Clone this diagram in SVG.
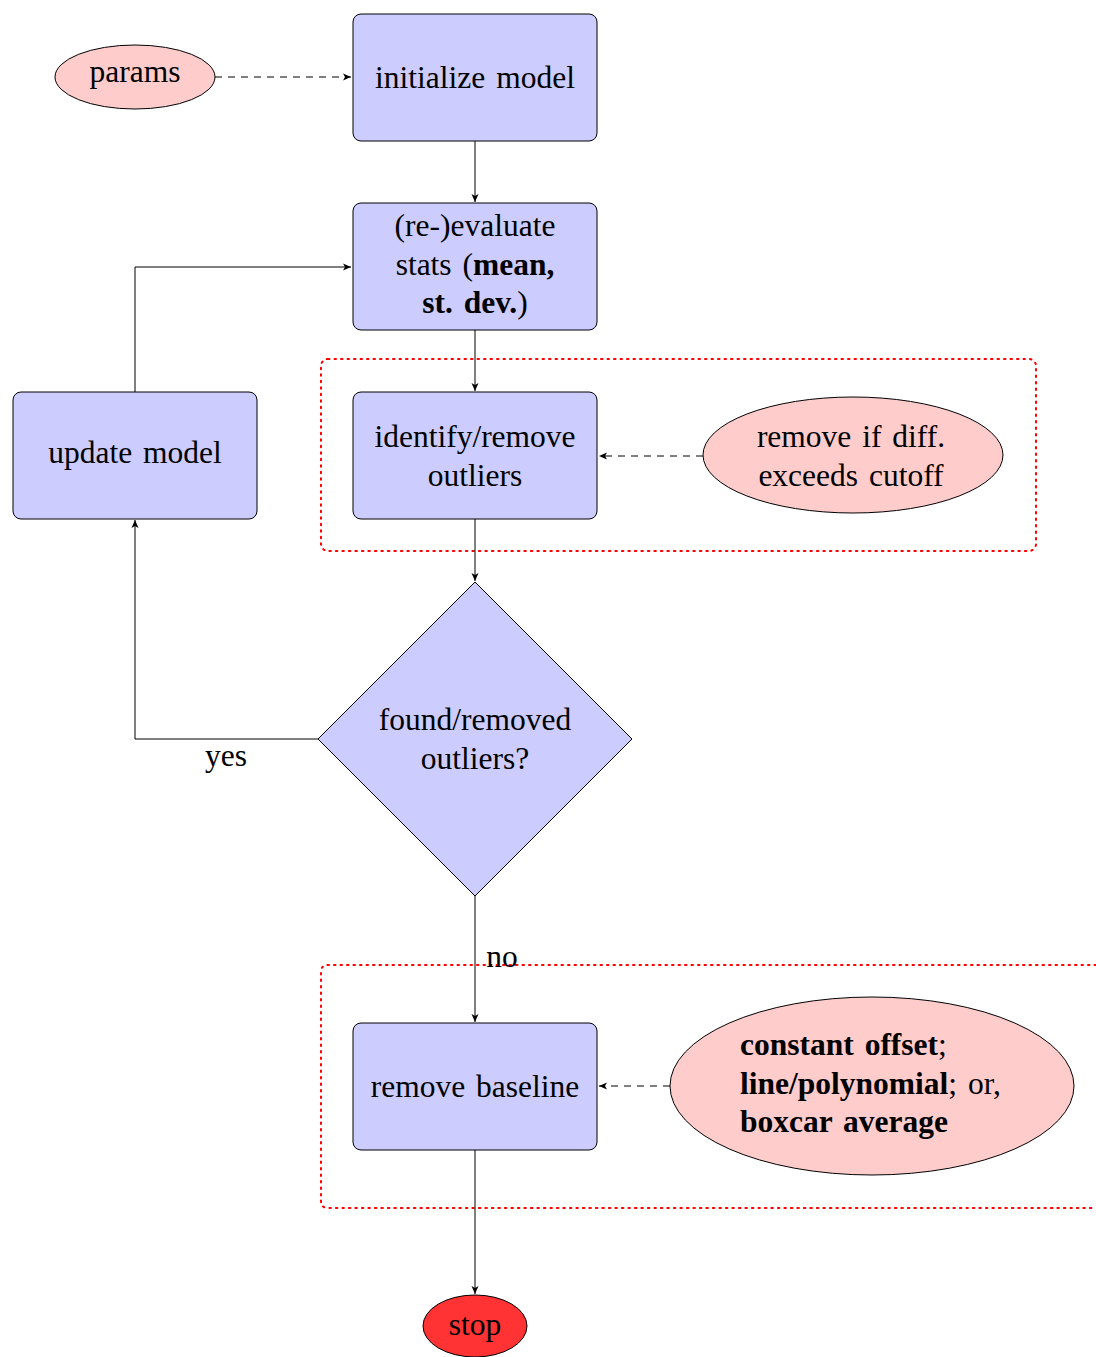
<svg xmlns="http://www.w3.org/2000/svg" width="1096" height="1357" viewBox="0 0 1096 1357">
<style>
text{font-family:"Liberation Serif","Times New Roman",serif;font-size:31.5px;fill:#000;text-anchor:middle;word-spacing:3px}
text.l{text-anchor:start}
.box{fill:#ccccff;stroke:#000;stroke-width:1}
.ell{fill:#ffcccc;stroke:#000;stroke-width:1}
.grp{fill:none;stroke:#ff0000;stroke-width:2;stroke-dasharray:1.5 5;stroke-linecap:round}
.ln{fill:none;stroke:#000;stroke-width:1}
.dash{fill:none;stroke:#000;stroke-width:1;stroke-dasharray:7 6}
.b{font-weight:bold}
.n{font-weight:normal}
</style>
<defs>
<marker id="ah" markerWidth="10" markerHeight="8" refX="8" refY="4" orient="auto" markerUnits="userSpaceOnUse">
<path d="M0,0.5 L8,4 L0,7.5 L2,4 Z" fill="#000"/>
</marker>
</defs>
<rect width="1096" height="1357" fill="#fff"/>
<g id="groups">
<rect class="grp" x="321" y="359" width="715" height="192" rx="7"/>
<path class="grp" d="M1096,965 H328 Q321,965 321,972 V1201 Q321,1208 328,1208 H1096"/>
</g>
<g id="connectors">
<path class="dash" d="M215,77 H351" marker-end="url(#ah)"/>
<path class="ln" d="M475,141 V202" marker-end="url(#ah)"/>
<path class="ln" d="M475,330 V391" marker-end="url(#ah)"/>
<path class="dash" d="M703,456 H599" marker-end="url(#ah)"/>
<path class="ln" d="M475,519 V581" marker-end="url(#ah)"/>
<path class="ln" d="M318,739 H135 V520" marker-end="url(#ah)"/>
<path class="ln" d="M135,392 V267 H351" marker-end="url(#ah)"/>
<path class="ln" d="M475,896 V1022" marker-end="url(#ah)"/>
<path class="dash" d="M670,1086 H599" marker-end="url(#ah)"/>
<path class="ln" d="M475,1150 V1294" marker-end="url(#ah)"/>
<text x="226" y="766">yes</text>
<text x="502" y="967">no</text>
</g>
<g id="params">
<ellipse class="ell" cx="135" cy="77" rx="80" ry="32"/>
<text x="135" y="82">params</text>
</g>
<g id="init">
<rect class="box" x="353" y="14" width="244" height="127" rx="8"/>
<text x="475" y="88">initialize model</text>
</g>
<g id="evaluate">
<rect class="box" x="353" y="203" width="244" height="127" rx="8"/>
<text x="475" y="236">(re-)evaluate</text>
<text x="475" y="275">stats (<tspan class="b">mean,</tspan></text>
<text x="475" y="313" class="b">st.  dev.<tspan class="n">)</tspan></text>
</g>
<g id="identify">
<rect class="box" x="353" y="392" width="244" height="127" rx="8"/>
<text x="475" y="447">identify/remove</text>
<text x="475" y="486">outliers</text>
</g>
<g id="cutoff">
<ellipse class="ell" cx="853" cy="455" rx="150" ry="58"/>
<text x="851" y="447">remove if diff.</text>
<text x="851" y="486">exceeds cutoff</text>
</g>
<g id="update">
<rect class="box" x="13" y="392" width="244" height="127" rx="8"/>
<text x="135" y="463">update model</text>
</g>
<g id="decision">
<path class="box" d="M475,582 L632,739 L475,896 L318,739 Z"/>
<text x="475" y="730">found/removed</text>
<text x="475" y="769">outliers?</text>
</g>
<g id="baseline">
<rect class="box" x="353" y="1023" width="244" height="127" rx="8"/>
<text x="475" y="1097">remove baseline</text>
</g>
<g id="methods">
<ellipse class="ell" cx="872" cy="1086" rx="202" ry="89"/>
<text x="740" y="1055" class="l"><tspan class="b">constant offset</tspan>;</text>
<text x="740" y="1094" class="l"><tspan class="b">line/polynomial</tspan>; or,</text>
<text x="740" y="1132" class="l b">boxcar average</text>
</g>
<g id="stop">
<ellipse cx="475" cy="1326" rx="52" ry="31" fill="#ff3333" stroke="#000" stroke-width="1"/>
<text x="475" y="1335">stop</text>
</g>
</svg>
